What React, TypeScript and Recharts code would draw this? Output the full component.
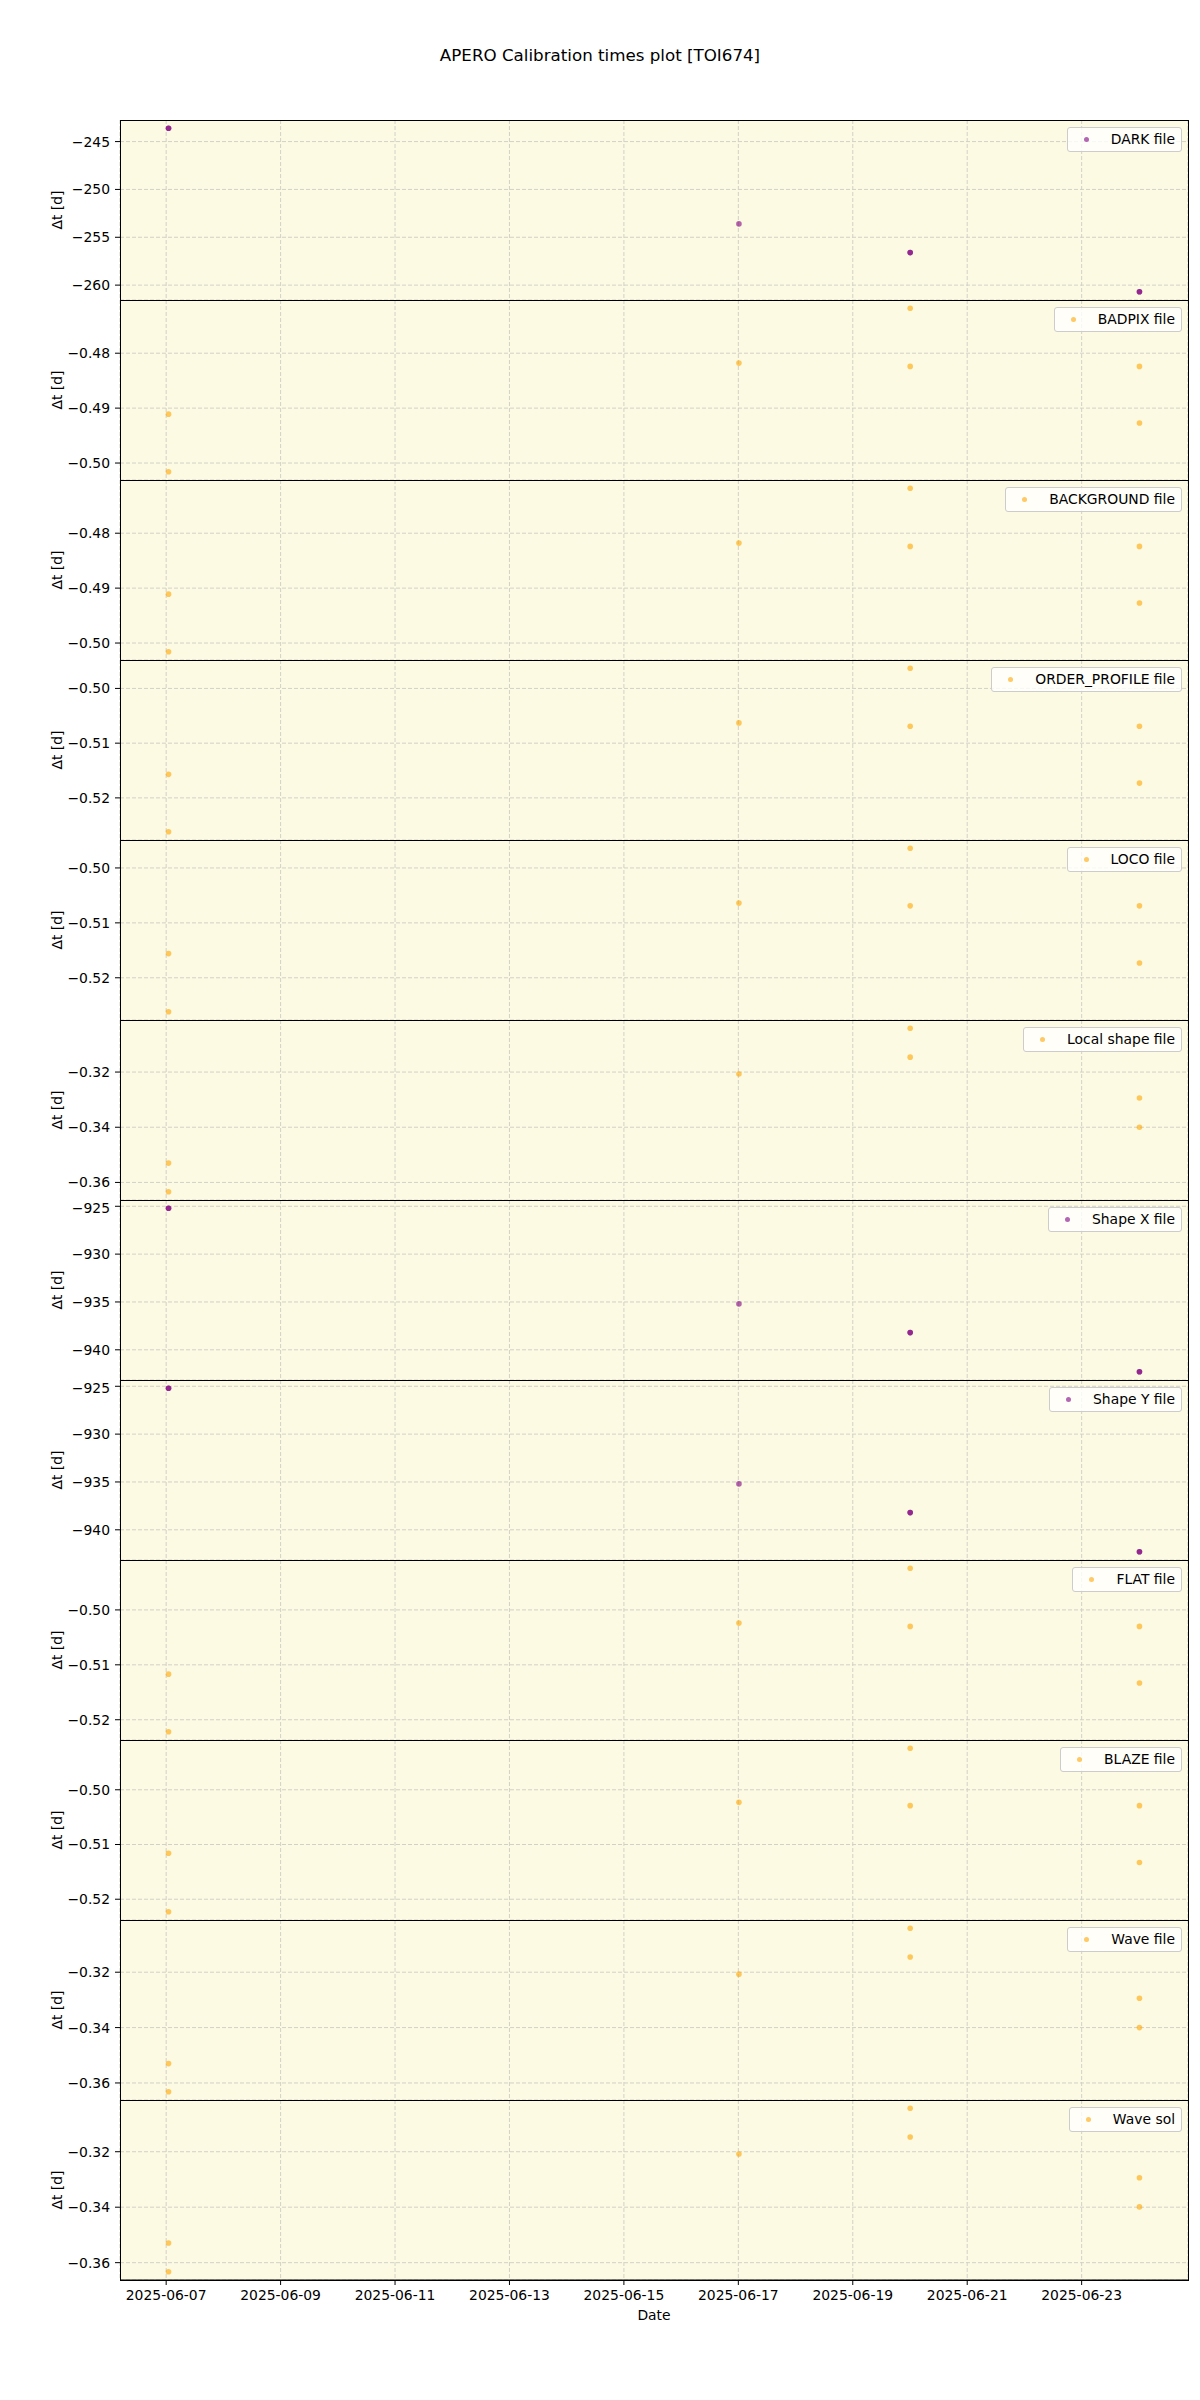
import React from "react";
import { ScatterChart, Scatter, XAxis, YAxis, CartesianGrid } from "recharts";

// observation times of the calibration files (UTC)
const calibTimes = [
	"2025-06-07T01:00:00Z",
	"2025-06-07T01:00:00Z",
	"2025-06-17T00:15:00Z",
	"2025-06-20T00:05:00Z",
	"2025-06-20T00:05:00Z",
	"2025-06-24T00:15:00Z",
	"2025-06-24T00:15:00Z",
];

const dateTicks = [
	"2025-06-07",
	"2025-06-09",
	"2025-06-11",
	"2025-06-13",
	"2025-06-15",
	"2025-06-17",
	"2025-06-19",
	"2025-06-21",
	"2025-06-23",
];

const panelNames = [
	"DARK file",
	"BADPIX file",
	"BACKGROUND file",
	"ORDER_PROFILE file",
	"LOCO file",
	"Local shape file",
	"Shape X file",
	"Shape Y file",
	"FLAT file",
	"BLAZE file",
	"Wave file",
	"Wave sol",
];

const panelColors = ["purple", "orange", "orange", "orange", "orange", "orange", "purple", "purple", "orange", "orange", "orange", "orange"];

const darkValues = [-243.6, -243.6, -253.6, -256.6, -256.6, -260.7, -260.7];
const badpixValues = [-0.4911, -0.5016, -0.4818, -0.4718, -0.4824, -0.4824, -0.4927];
const backgroundValues = [-0.4911, -0.5016, -0.4818, -0.4718, -0.4824, -0.4824, -0.4927];
const orderProfileValues = [-0.5157, -0.5262, -0.5063, -0.4963, -0.5069, -0.5069, -0.5173];
const locoValues = [-0.5156, -0.5262, -0.5064, -0.4964, -0.5069, -0.5069, -0.5173];
const localShapeValues = [-0.353, -0.3634, -0.3207, -0.3041, -0.3146, -0.3294, -0.34];
const shapeXValues = [-925.2, -925.2, -935.2, -938.2, -938.2, -942.3, -942.3];
const shapeYValues = [-925.2, -925.2, -935.2, -938.2, -938.2, -942.3, -942.3];
const flatValues = [-0.5117, -0.5222, -0.5024, -0.4924, -0.503, -0.503, -0.5133];
const blazeValues = [-0.5116, -0.5223, -0.5023, -0.4924, -0.5029, -0.5029, -0.5133];
const waveValues = [-0.353, -0.3632, -0.3207, -0.3041, -0.3145, -0.3294, -0.34];
const waveSolValues = [-0.3529, -0.3633, -0.3208, -0.3043, -0.3147, -0.3294, -0.3399];

const panelValues = [
	darkValues,
	badpixValues,
	backgroundValues,
	orderProfileValues,
	locoValues,
	localShapeValues,
	shapeXValues,
	shapeYValues,
	flatValues,
	blazeValues,
	waveValues,
	waveSolValues,
];

const darkTicks = [-260, -255, -250, -245];
const badpixTicks = [-0.5, -0.49, -0.48];
const orderTicks = [-0.52, -0.51, -0.5];
const shapeTicks = [-0.36, -0.34, -0.32];
const shapeXYTicks = [-940, -935, -930, -925];

const panelTicks = [
	darkTicks,
	badpixTicks,
	badpixTicks,
	orderTicks,
	orderTicks,
	shapeTicks,
	shapeXYTicks,
	shapeXYTicks,
	orderTicks,
	orderTicks,
	shapeTicks,
	shapeTicks,
];

const FONT = "'DejaVu Sans', sans-serif";
const FS = 13.9;
const W = 1200;
const TOP = 120;
const PANEL_H = 180;
const PLOT_LEFT = 120;
const PLOT_RIGHT = 1188;
const BG = "#FCFAE2";
const GRID = "#d2d1c8";

const fillFor = (c: string) => (c === "purple" ? "rgb(128,0,128)" : "rgb(255,165,0)");

const ms = calibTimes.map((t) => new Date(t).getTime());
const tMin = Math.min(...ms);
const tMax = Math.max(...ms);
const tPad = (tMax - tMin) * 0.05;
const xDomain = [tMin - tPad, tMax + tPad];
const xTicks = dateTicks.map((d) => new Date(d + "T00:00:00Z").getTime());

const fmtY = (v: number, dec: number) => (v < 0 ? "\u2212" : "") + Math.abs(v).toFixed(dec);

const Dot = (props: any) => {
	const { cx, cy, fill } = props;
	if (cx == null || cy == null) return null;
	return <circle cx={cx} cy={cy} r={2.8} fill={fill} fillOpacity={0.6} />;
};

const Panel = ({ index }: { index: number }) => {
	const values = panelValues[index];
	const color = fillFor(panelColors[index]);
	const ticks = panelTicks[index];
	const dec = Math.abs(ticks[0]) > 10 ? 0 : 2;
	const lo = Math.min(...values);
	const hi = Math.max(...values);
	const pad = (hi - lo) * 0.05;
	const data = values.map((v, i) => ({ t: ms[i], v }));
	const last = index === panelNames.length - 1;
	const h = last ? PANEL_H + 50 : PANEL_H;

	return (
		<div style={{ position: "absolute", left: 0, top: TOP + index * PANEL_H, width: W, height: h }}>
			<ScatterChart
				width={W}
				height={h}
				margin={{ top: 0, right: W - PLOT_RIGHT, bottom: 0, left: 0 }}
				style={{ fontFamily: FONT }}>
				<CartesianGrid
					stroke={GRID}
					strokeDasharray='4 2'
					fill={BG}
					fillOpacity={1}
				/>
				<XAxis
					type='number'
					dataKey='t'
					domain={xDomain}
					ticks={xTicks}
					allowDataOverflow
					hide={!last}
					height={last ? 50 : 0}
					tickSize={5}
					tickMargin={5}
					stroke='#000'
					tick={{ fill: "#000", fontSize: FS, fontFamily: FONT }}
					tickFormatter={(t) => new Date(t).toISOString().slice(0, 10)}
					label={{
						content: (p: any) => {
							const vb = p.viewBox || { x: PLOT_LEFT, y: PANEL_H, width: PLOT_RIGHT - PLOT_LEFT };
							return (
								<text
									x={vb.x + vb.width / 2}
									y={vb.y + 40}
									textAnchor='middle'
									fontSize={FS}
									fontFamily={FONT}
									fill='#000'>
									Date
								</text>
							);
						},
					}}
				/>
				<YAxis
					type='number'
					dataKey='v'
					width={PLOT_LEFT}
					domain={[lo - pad, hi + pad]}
					ticks={ticks}
					allowDataOverflow
					tickSize={5}
					tickMargin={5}
					axisLine={false}
					stroke='#000'
					tick={{ fill: "#000", fontSize: FS, fontFamily: FONT }}
					tickFormatter={(v) => fmtY(v, dec)}
					label={{
						content: (p: any) => {
							const vb = p.viewBox || { y: 0, height: PANEL_H };
							const cy = vb.y + vb.height / 2;
							return (
								<text
									x={57}
									y={cy}
									transform={`rotate(-90, 57, ${cy})`}
									textAnchor='middle'
									dominantBaseline='central'
									fontSize={FS}
									fontFamily={FONT}
									fill='#000'>
									Δt [d]
								</text>
							);
						},
					}}
				/>
				<Scatter
					name={panelNames[index]}
					data={data}
					fill={color}
					shape={<Dot />}
					isAnimationActive={false}
				/>
			</ScatterChart>
			<div
				style={{
					position: "absolute",
					left: PLOT_LEFT,
					top: 0,
					width: PLOT_RIGHT - PLOT_LEFT + 1,
					height: PANEL_H + 1,
					border: "1px solid #000",
					boxSizing: "border-box",
					pointerEvents: "none",
				}}
			/>
			<div
				style={{
					position: "absolute",
					top: 7,
					right: W - 1182,
					display: "flex",
					alignItems: "center",
					background: "rgba(255,255,255,0.8)",
					border: "1px solid #cccccc",
					borderRadius: 3,
					padding: "3px 6px 3px 5px",
					fontFamily: FONT,
					fontSize: FS,
					lineHeight: "17px",
					color: "#000",
					whiteSpace: "nowrap",
				}}>
				<span
					style={{
						display: "inline-block",
						width: 5,
						height: 5,
						borderRadius: "50%",
						background: color,
						opacity: 0.6,
						marginLeft: 11,
						marginRight: 22,
					}}
				/>
				<span>{panelNames[index]}</span>
			</div>
		</div>
	);
};

const App = () => {
	return (
		<div
			style={{
				position: "absolute",
				left: 0,
				top: 0,
				width: W,
				height: 2400,
				background: "#fff",
				fontFamily: FONT,
			}}>
			<div
				style={{
					position: "absolute",
					left: 0,
					top: 45,
					width: W,
					textAlign: "center",
					fontSize: 16.7,
					lineHeight: "20px",
					color: "#000",
				}}>
				APERO Calibration times plot [TOI674]
			</div>
			{panelNames.map((_, i) => (
				<Panel key={i} index={i} />
			))}
		</div>
	);
};

export default App;
